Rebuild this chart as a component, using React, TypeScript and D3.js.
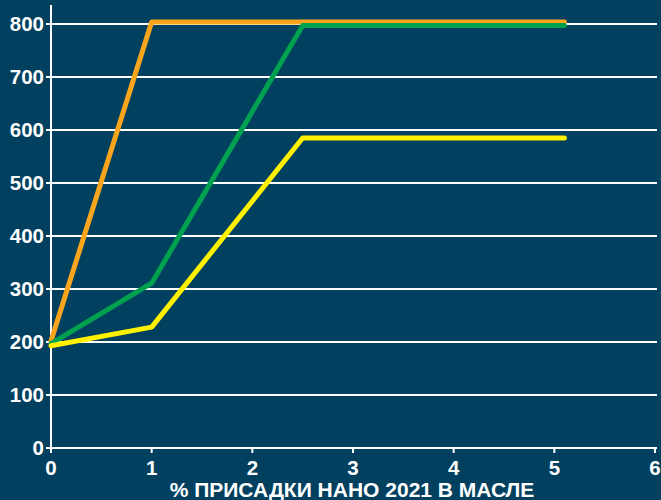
import React from 'react';
import * as d3 from 'd3';

const xValues = [0, 1, 2.5, 5.1];
const orangeValues = [202, 804, 804, 804];
const greenValues = [197, 311, 797, 797];
const yellowValues = [193, 228, 585, 585];
const xTicks = [0, 1, 2, 3, 4, 5, 6];
const yTicks = [0, 100, 200, 300, 400, 500, 600, 700, 800];
const xTitle = '% ПРИСАДКИ НАНО 2021 В МАСЛЕ';

const series = [
  { name: 'orange', values: orangeValues, color: '#FBA51C' },
  { name: 'green', values: greenValues, color: '#00A24F' },
  { name: 'yellow', values: yellowValues, color: '#FFF100' },
];

const W = 661;
const H = 500;
const margin = { l: 51, r: 6, t: 24, b: 52 };

export default function App() {
  const x = d3.scaleLinear().domain([0, 6]).range([margin.l, W - margin.r]);
  const y = d3.scaleLinear().domain([0, 800]).range([H - margin.b, margin.t]);
  const line = d3
    .line<[number, number]>()
    .x((d) => x(d[0]))
    .y((d) => y(d[1]));

  const font = '"Liberation Sans", Arial, sans-serif';

  return (
    <svg
      width={W}
      height={H}
      style={{ position: 'absolute', left: 0, top: 0, display: 'block' }}
    >
      <rect x={0} y={0} width={W} height={H} fill="#02405F" />
      {/* grid */}
      {yTicks.map((t) => (
        <g key={t}>
          <line x1={x(0) - 5} x2={x(6) + 2} y1={y(t)} y2={y(t)} stroke="#fff" strokeWidth={2} />
          <text
            x={x(0) - 7}
            y={y(t)}
            dy="0.36em"
            textAnchor="end"
            fill="#fff"
            fontFamily={font}
            fontWeight="bold"
            fontSize={20.5}
          >
            {t}
          </text>
        </g>
      ))}
      {/* axes */}
      <line x1={x(0)} x2={x(0)} y1={5} y2={y(0) + 5} stroke="#fff" strokeWidth={2} />
      {xTicks.map((t) => (
        <g key={t}>
          <line x1={x(t)} x2={x(t)} y1={y(0)} y2={y(0) + 5} stroke="#fff" strokeWidth={2} />
          <text
            x={x(t)}
            y={y(0) + 27}
            textAnchor="middle"
            fill="#fff"
            fontFamily={font}
            fontWeight="bold"
            fontSize={20.5}
          >
            {t}
          </text>
        </g>
      ))}
      {series.map((s) => (
        <path
          key={s.name}
          d={line(xValues.map((v, i) => [v, s.values[i]] as [number, number])) as string}
          fill="none"
          stroke={s.color}
          strokeWidth={5}
          strokeLinejoin="round"
          strokeLinecap="round"
        />
      ))}
      <text
        x={352}
        y={H - 3}
        textAnchor="middle"
        fill="#fff"
        fontFamily={font}
        fontWeight="bold"
        fontSize={21}
      >
        {xTitle}
      </text>
    </svg>
  );
}
